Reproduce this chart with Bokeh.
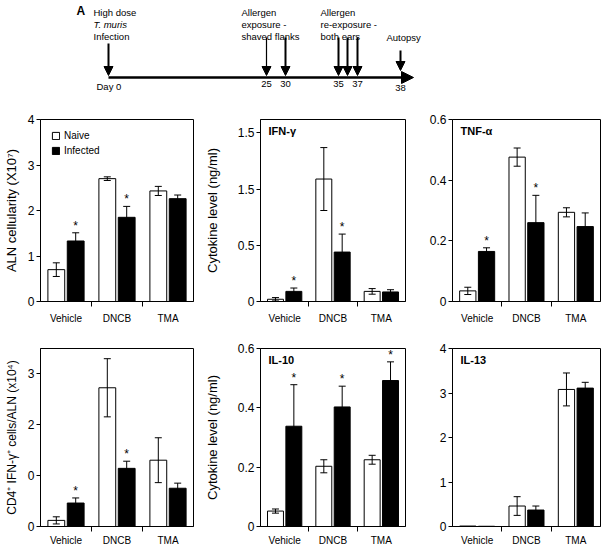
import numpy as np
from bokeh.plotting import figure
from bokeh.layouts import column, row
from bokeh.models import (Range1d, FixedTicker, Label, Legend, LegendItem, Arrow,
                          NormalHead, ColumnDataSource)
from bokeh.core.properties import value
from bokeh.embed import file_html
from bokeh.resources import INLINE

FONT = "Liberation Sans"

# ---------------- data ----------------
groups = ["Vehicle", "DNCB", "TMA"]

# B: ALN cellularity (x10^7)
aln_naive = [0.70, 2.70, 2.43]
aln_naive_err = [0.15, 0.04, 0.10]
aln_infected = [1.33, 1.85, 2.26]
aln_infected_err = [0.18, 0.24, 0.08]
aln_sig = [True, True, False]
aln_ticks = [0, 1, 2, 3, 4]
aln_tick_labels = ["0", "1", "2", "3", "4"]

# C: IFN-gamma (ng/ml)
ifn_naive = [0.02, 1.09, 0.09]
ifn_naive_err = [0.015, 0.28, 0.025]
ifn_infected = [0.09, 0.44, 0.085]
ifn_infected_err = [0.03, 0.16, 0.02]
ifn_sig = [True, True, False]
ifn_ticks = [0, 0.5, 1, 1.5]
ifn_tick_labels = ["0", "0.5", "1.5", "1.5"]

# C: TNF-alpha (ng/ml)
tnf_naive = [0.035, 0.476, 0.294]
tnf_naive_err = [0.012, 0.03, 0.015]
tnf_infected = [0.165, 0.26, 0.247]
tnf_infected_err = [0.012, 0.09, 0.045]
tnf_sig = [True, True, False]
tnf_ticks = [0, 0.2, 0.4, 0.6]
tnf_tick_labels = ["0", "0.2", "0.4", "0.6"]

# D: CD4+ IFN-gamma+ cells / ALN (x10^4)
cd4_naive = [0.12, 2.72, 1.30]
cd4_naive_err = [0.07, 0.57, 0.44]
cd4_infected = [0.46, 1.14, 0.75]
cd4_infected_err = [0.10, 0.14, 0.10]
cd4_sig = [True, True, False]
cd4_ticks = [0, 1, 2, 3]
cd4_tick_labels = ["0", "0", "2", "3"]

# IL-10 (ng/ml)
il10_naive = [0.052, 0.203, 0.225]
il10_naive_err = [0.007, 0.022, 0.015]
il10_infected = [0.338, 0.403, 0.492]
il10_infected_err = [0.14, 0.07, 0.063]
il10_sig = [True, True, True]
il10_ticks = [0, 0.2, 0.4, 0.6]
il10_tick_labels = ["0", "0.2", "0.4", "0.6"]

# IL-13 (ng/ml)
il13_naive = [0.01, 0.46, 3.08]
il13_naive_err = [0.0, 0.21, 0.37]
il13_infected = [0.005, 0.37, 3.11]
il13_infected_err = [0.0, 0.09, 0.13]
il13_sig = [False, False, False]
il13_ticks = [0, 1, 2, 3, 4]
il13_tick_labels = ["0", "1", "2", "3", "4"]

# A: timeline
timeline_days = ["Day 0", "25", "30", "35", "36", "37", "38"]
timeline_day_labels = ["Day 0", "25", "30", "35", "", "37", "38"]
event_texts = [
    ["High dose", "T. muris", "Infection"],
    ["Allergen", "exposure -", "shaved flanks"],
    ["Allergen", "re-exposure -", "both ears"],
    ["Autopsy"],
]

# ---------------- layout constants (schematic timeline) ----------------
event_x = [108, 266, 285, 338, 347, 357, 400]
arrow_top = [43, 37, 37, 37, 37, 37, 50]
arrow_tip = [75, 75, 75, 75, 75, 75, 70]
arrow_w = [2, 1.2, 2, 2, 2, 2, 2]
block_x = [93, 241, 320, 386]
block_top = [6, 6, 6, 31]


def overrides(ticks, labels):
    out = {}
    for t, l in zip(ticks, labels):
        out[int(t) if float(t).is_integer() else float(t)] = l
    return out


# ---------------- timeline (A) ----------------
TW, TH = 603, 110
tl = figure(width=TW, height=TH, x_range=Range1d(0, TW), y_range=Range1d(TH, 0),
            min_border=0, output_backend="svg", toolbar_location=None,
            x_axis_type=None, y_axis_type=None)
tl.outline_line_color = None
tl.background_fill_color = "white"

tl.add_layout(Arrow(x_start=event_x[0], y_start=77, x_end=413, y_end=77, line_width=2.5,
                    end=NormalHead(size=12, fill_color="black", line_color="black")))
for xx, y0, y1, w in zip(event_x, arrow_top, arrow_tip, arrow_w):
    tl.add_layout(Arrow(x_start=xx, y_start=y0, x_end=xx, y_end=y1, line_width=w,
                        end=NormalHead(size=9, fill_color="black", line_color="black",
                                       line_width=1)))

day_src = ColumnDataSource(dict(x=event_x[1:], y=[80, 80, 80, 80, 80, 84],
                                t=timeline_day_labels[1:]))
tl.text(x="x", y="y", text="t", source=day_src, text_align="center", text_baseline="top",
        text_font=value(FONT), text_font_size="9.5px", text_color="black")
tl.text(x=[96], y=[80], text=[timeline_day_labels[0]], text_baseline="top",
        text_font=value(FONT), text_font_size="9.5px", text_color="black")

for lines, bx, by in zip(event_texts, block_x, block_top):
    for k, line in enumerate(lines):
        style = "italic" if line == "T. muris" else "normal"
        tl.text(x=[bx], y=[by + 12 * k], text=[line], text_baseline="top",
                text_font=value(FONT), text_font_size="9.5px", text_color="black",
                text_font_style=style)

tl.add_layout(Label(x=76, y=3, text="A", text_baseline="top", text_font=FONT,
                    text_font_size="12px", text_font_style="bold", text_color="black"))


# ---------------- bar panels ----------------
def bar_panel(naive, naive_err, inf, inf_err, sig, ymax, ticks, tick_labels,
              width, height, bl, br, bt, bb, ylabel=None, ylabel_size="13px",
              label_standoff=5, xstandoff=6, title=None, letter=None, letter_dx=0,
              letter_dy=0, legend=False):
    naive = np.array(naive, float)
    naive_err = np.array(naive_err, float)
    inf = np.array(inf, float)
    inf_err = np.array(inf_err, float)
    idx = np.arange(len(groups))
    xn = idx + 0.31
    xi = idx + 0.69

    p = figure(width=width, height=height, x_range=Range1d(0, 3), y_range=Range1d(0, ymax),
               output_backend="svg", toolbar_location=None,
               min_border_left=bl, min_border_right=br, min_border_top=bt, min_border_bottom=bb)
    p.xgrid.visible = False
    p.ygrid.visible = False
    p.outline_line_color = "black"
    p.outline_line_alpha = 1
    p.outline_line_width = 1
    p.background_fill_color = "white"
    p.border_fill_color = "white"

    rn = p.vbar(x=xn, top=naive, width=0.33, fill_color="white", line_color="black", line_width=1)
    ri = p.vbar(x=xi, top=inf, width=0.33, fill_color="black", line_color="black", line_width=1)

    for xs, v, e in ((xn, naive, naive_err), (xi, inf, inf_err)):
        m = e > 0
        lo = np.maximum(v - e, 0)[m]
        hi = (v + e)[m]
        p.segment(x0=xs[m], y0=lo, x1=xs[m], y1=hi, line_color="black", line_width=1)
        p.scatter(x=np.concatenate([xs[m], xs[m]]), y=np.concatenate([lo, hi]),
                  marker="dash", size=7, line_color="black", line_width=1)

    s = np.array(sig, bool)
    if s.any():
        p.text(x=xi[s], y=(inf + inf_err)[s], text=["*"] * int(s.sum()), text_align="center",
               text_baseline="bottom", text_font=value(FONT), text_font_size="12px",
               text_color="black")

    xa = p.xaxis[0]
    xa.ticker = FixedTicker(ticks=[0.5, 1.5, 2.5], minor_ticks=[1, 2])
    xa.major_label_overrides = {0.5: groups[0], 1.5: groups[1], 2.5: groups[2]}
    xa.major_tick_out = 0
    xa.major_tick_in = 0
    xa.minor_tick_out = 5
    xa.minor_tick_in = 0
    xa.major_label_standoff = xstandoff
    xa.major_label_text_font = FONT
    xa.major_label_text_font_size = "10px"
    xa.major_label_text_color = "black"
    xa.axis_line_color = "black"
    xa.minor_tick_line_color = "black"

    ya = p.yaxis[0]
    ya.ticker = FixedTicker(ticks=ticks, minor_ticks=[])
    ya.major_label_overrides = overrides(ticks, tick_labels)
    ya.major_tick_out = 4
    ya.major_tick_in = 0
    ya.minor_tick_out = 0
    ya.minor_tick_in = 0
    ya.major_label_standoff = 2
    ya.major_label_text_font = FONT
    ya.major_label_text_font_size = "12px"
    ya.major_label_text_color = "black"
    ya.axis_line_color = "black"
    ya.major_tick_line_color = "black"
    if ylabel:
        ya.axis_label = ylabel
        ya.axis_label_text_font = FONT
        ya.axis_label_text_font_size = ylabel_size
        ya.axis_label_text_font_style = "normal"
        ya.axis_label_text_color = "black"
        ya.axis_label_standoff = label_standoff

    if title:
        p.add_layout(Label(x=0, y=ymax, x_offset=8, y_offset=-5, text=title,
                           text_baseline="top", text_font=FONT, text_font_size="11px",
                           text_font_style="bold", text_color="black"))
    if letter:
        p.add_layout(Label(x=0, y=ymax, x_offset=letter_dx, y_offset=letter_dy, text=letter,
                           text_baseline="top", text_font=FONT, text_font_size="12px",
                           text_font_style="bold", text_color="black"))
    if legend:
        lg = Legend(items=[LegendItem(label="Naive", renderers=[rn]),
                           LegendItem(label="Infected", renderers=[ri])],
                    location="top_left", border_line_color=None, background_fill_alpha=0,
                    glyph_width=9, glyph_height=9, label_height=9, label_standoff=4,
                    spacing=4, padding=0, margin=11,
                    label_text_font=FONT, label_text_font_size="10px",
                    label_text_color="black")
        p.add_layout(lg)
    return p


H1 = 216
H2 = 222
pB = bar_panel(aln_naive, aln_naive_err, aln_infected, aln_infected_err, aln_sig, 4,
               aln_ticks, aln_tick_labels, 200, H1, 40, 7, 9, 23,
               ylabel="ALN cellularity (X10\u2077)", label_standoff=6,
               letter="B", letter_dx=-38, letter_dy=8, legend=True)
pC = bar_panel(ifn_naive, ifn_naive_err, ifn_infected, ifn_infected_err, ifn_sig, 1.62,
               ifn_ticks, ifn_tick_labels, 206, H1, 60, 1, 9, 23,
               ylabel="Cytokine level (ng/ml)", label_standoff=15,
               title="IFN-\u03b3", letter="C", letter_dx=-57, letter_dy=8)
pT = bar_panel(tnf_naive, tnf_naive_err, tnf_infected, tnf_infected_err, tnf_sig, 0.6,
               tnf_ticks, tnf_tick_labels, 197, H1, 46, 3, 9, 23, title="TNF-\u03b1")

pD = bar_panel(cd4_naive, cd4_naive_err, cd4_infected, cd4_infected_err, cd4_sig, 3.49,
               cd4_ticks, cd4_tick_labels, 200, H2, 40, 7, 22, 16,
               ylabel="CD4\u207a IFN-\u03b3\u207a cells/ALN (x10\u2074)", ylabel_size="12px",
               label_standoff=6, xstandoff=3, letter="D", letter_dx=-38, letter_dy=12)
pI10 = bar_panel(il10_naive, il10_naive_err, il10_infected, il10_infected_err, il10_sig, 0.6,
                 il10_ticks, il10_tick_labels, 206, H2, 60, 1, 22, 16,
                 ylabel="Cytokine level (ng/ml)", label_standoff=15, xstandoff=3,
                 title="IL-10")
pI13 = bar_panel(il13_naive, il13_naive_err, il13_infected, il13_infected_err, il13_sig, 4,
                 il13_ticks, il13_tick_labels, 197, H2, 46, 3, 22, 16, xstandoff=3,
                 title="IL-13")

layout = column(tl, row(pB, pC, pT), row(pD, pI10, pI13))

with open("out.html", "w") as f:
    f.write(file_html(layout, INLINE))
